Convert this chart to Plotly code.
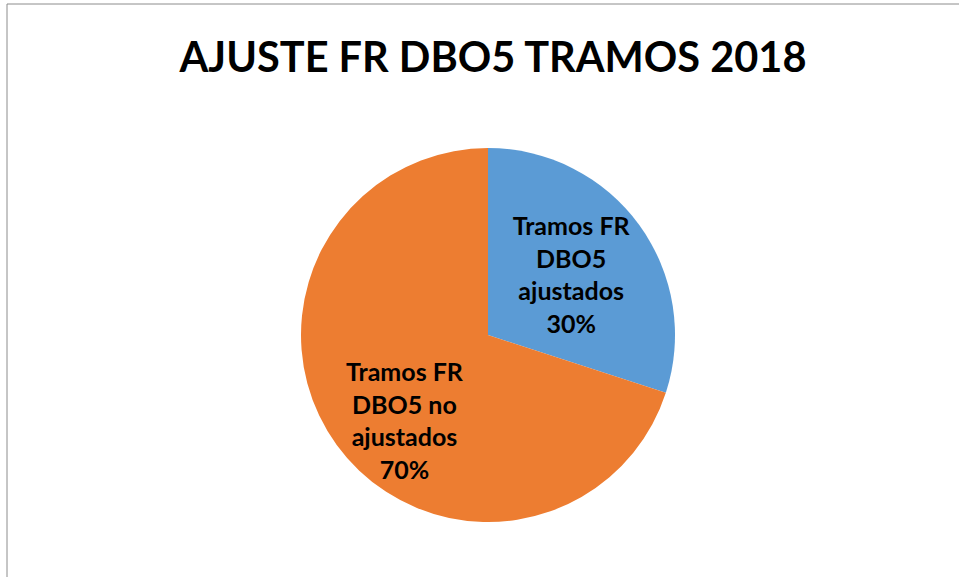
import plotly.graph_objects as go

categories = ["Tramos FR DBO5 ajustados", "Tramos FR DBO5 no ajustados"]
label_lines = ["Tramos FR<br>DBO5<br>ajustados", "Tramos FR<br>DBO5 no<br>ajustados"]
values = [30, 70]
colors = ["#5B9BD5", "#ED7D31"]
title_text = "AJUSTE FR DBO5 TRAMOS 2018"

W, H = 959, 577
cx, cy, r = 488, 335, 187
label_font = dict(family="Lato", size=25, color="black", weight="bold")

total = sum(values)
pct = [f"{round(100 * v / total)}%" for v in values]

fig = go.Figure(go.Pie(
    labels=categories,
    values=values,
    text=label_lines,
    texttemplate="%{text}<br>%{percent:.0%}",
    textposition=["inside", "none"],
    insidetextorientation="horizontal",
    sort=False,
    direction="clockwise",
    rotation=0,
    marker=dict(colors=colors, line=dict(color="white", width=0)),
    textfont=label_font,
    hoverinfo="label+percent",
    showlegend=False,
    domain=dict(x=[(cx - r) / W, (cx + r) / W],
                y=[(H - cy - r) / H, (H - cy + r) / H]),
))

fig.add_annotation(
    text=label_lines[1] + "<br>" + pct[1],
    xref="paper", yref="paper", x=405 / W, y=1 - 420 / H,
    xanchor="center", yanchor="middle", align="center",
    showarrow=False, font=label_font,
)

fig.update_layout(
    width=W, height=H,
    margin=dict(l=0, r=0, t=0, b=0),
    paper_bgcolor="white",
    plot_bgcolor="white",
    uniformtext=dict(minsize=25, mode="show"),
    title=dict(text="<b>" + title_text + "</b>", x=493 / W, xanchor="center",
               y=1 - 57 / H, yanchor="middle",
               font=dict(family="Lato", size=41.5, color="black")),
    shapes=[
        dict(type="line", xref="paper", yref="paper", x0=7 / W, x1=1, y0=1 - 4 / H, y1=1 - 4 / H,
             line=dict(color="#8c8c8c", width=1)),
        dict(type="line", xref="paper", yref="paper", x0=7 / W, x1=7 / W, y0=0, y1=1 - 4 / H,
             line=dict(color="#8c8c8c", width=1)),
    ],
)

fig.write_html("out.html", config={"displayModeBar": False},
               post_script="document.body.style.margin='0';document.body.style.overflow='hidden';")
